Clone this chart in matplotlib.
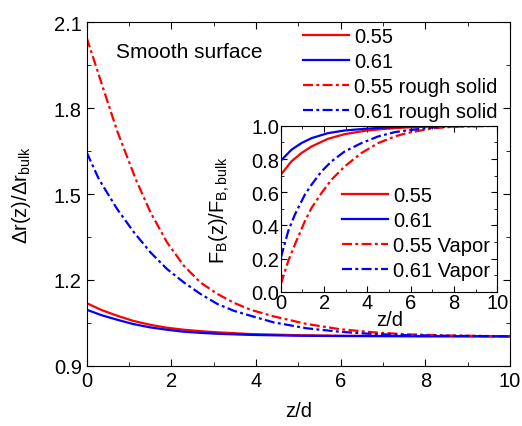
import numpy as np
import matplotlib.pyplot as plt

plt.rcParams['font.family'] = ['Liberation Sans', 'DejaVu Sans']
plt.rcParams['mathtext.fontset'] = 'custom'
plt.rcParams['mathtext.rm'] = 'Liberation Sans'
plt.rcParams['mathtext.it'] = 'Liberation Sans'

# main panel: delta r(z)/delta r_bulk vs z/d
z_s = [0, 0.35, 0.72, 1.1, 1.51, 1.9, 2.3, 2.7, 3.09, 3.87, 5.0, 6.0, 8.0, 10.0]
r055 = [1.119, 1.095, 1.075, 1.057, 1.043, 1.033, 1.026, 1.021, 1.017, 1.011, 1.007, 1.005, 1.004, 1.003]
r061 = [1.096, 1.077, 1.061, 1.046, 1.034, 1.026, 1.019, 1.015, 1.012, 1.008, 1.005, 1.004, 1.003, 1.003]

z_r055 = [0, 0.41, 0.72, 1.16, 1.51, 1.9, 2.3, 2.69, 3.09, 3.48, 3.87, 4.41, 5.2, 5.98, 6.77, 7.56, 8.5, 10.0]
r055_rough = [2.047, 1.861, 1.721, 1.552, 1.436, 1.331, 1.249, 1.191, 1.151, 1.12, 1.096, 1.073, 1.046,
              1.028, 1.017, 1.01, 1.006, 1.003]
z_r061 = [0, 0.29, 0.72, 1.12, 1.51, 1.9, 2.3, 2.69, 3.09, 3.48, 3.87, 4.41, 5.2, 5.98, 6.77, 7.56, 8.5, 10.0]
r061_rough = [1.646, 1.552, 1.448, 1.366, 1.296, 1.238, 1.191, 1.151, 1.116, 1.092, 1.075, 1.052, 1.031,
              1.019, 1.011, 1.007, 1.005, 1.003]

# inset: F_B(z)/F_B,bulk vs z/d
z_in = [0, 0.49, 0.95, 1.42, 2.18, 2.95, 3.88, 4.8, 5.8, 7.0, 8.0, 10.0]
f055 = [0.706, 0.786, 0.836, 0.876, 0.922, 0.95, 0.97, 0.982, 0.99, 0.996, 0.999, 1.0]
f061 = [0.79, 0.856, 0.896, 0.926, 0.956, 0.972, 0.982, 0.99, 0.996, 0.998, 0.999, 1.0]
z_vap = [0, 0.34, 0.65, 1.11, 1.42, 1.88, 2.34, 2.95, 3.72, 4.49, 5.26, 5.8, 7.0, 8.0, 10.0]
f055_vap = [0.046, 0.186, 0.286, 0.426, 0.506, 0.596, 0.676, 0.756, 0.836, 0.896, 0.936, 0.956, 0.985,
            0.995, 1.0]
f061_vap = [0.206, 0.366, 0.466, 0.586, 0.646, 0.726, 0.786, 0.846, 0.896, 0.936, 0.962, 0.972, 0.99,
            0.997, 1.0]

dd = (0, (4.5, 1.5, 1.3, 1.5))
lw = 1.6
fs = 14.5

fig = plt.figure(figsize=(5.22, 4.27), dpi=100)
ax = fig.add_axes([0.166, 0.141, 0.811, 0.804])
ax.plot(z_s, r055, color='red', lw=lw, label='0.55')
ax.plot(z_s, r061, color='blue', lw=lw, label='0.61')
ax.plot(z_r055, r055_rough, color='red', lw=lw, ls=dd, label='0.55 rough solid')
ax.plot(z_r061, r061_rough, color='blue', lw=lw, ls=dd, label='0.61 rough solid')
ax.set_xlim(0, 10)
ax.set_ylim(0.9, 2.1)
ax.set_xticks([0, 2, 4, 6, 8, 10])
ax.set_xticks(np.arange(1, 10, 2), minor=True)
ax.set_yticks([0.9, 1.2, 1.5, 1.8, 2.1])
ax.set_yticks([1.05, 1.35, 1.65, 1.95], minor=True)
ax.tick_params(which='both', direction='in', top=True, right=True, labelsize=fs)
ax.tick_params(which='major', length=5)
ax.tick_params(which='minor', length=3)
ax.set_xlabel('z/d', fontsize=fs, labelpad=8)
ax.set_ylabel(r'$\Delta$r(z)/$\Delta$r$_{\mathrm{bulk}}$', fontsize=fs, labelpad=15)
ax.text(0.07, 0.915, 'Smooth surface', transform=ax.transAxes, fontsize=15, va='center')
ax.legend(loc='upper left', bbox_to_anchor=(0.580, 0.935), bbox_transform=fig.transFigure,
          frameon=False, fontsize=fs, handlelength=2.3, handletextpad=0.25,
          labelspacing=0.3, borderpad=0, borderaxespad=0)

ins = fig.add_axes([0.538, 0.314, 0.415, 0.389])
ins.plot(z_in, f055, color='red', lw=lw, label='0.55')
ins.plot(z_in, f061, color='blue', lw=lw, label='0.61')
ins.plot(z_vap, f055_vap, color='red', lw=lw, ls=dd, label='0.55 Vapor')
ins.plot(z_vap, f061_vap, color='blue', lw=lw, ls=dd, label='0.61 Vapor')
ins.set_xlim(0, 10)
ins.set_ylim(0, 1.0)
ins.set_xticks([0, 2, 4, 6, 8, 10])
ins.set_xticks(np.arange(1, 10, 2), minor=True)
ins.set_yticks([0, 0.2, 0.4, 0.6, 0.8, 1.0])
ins.set_yticks([0.1, 0.3, 0.5, 0.7, 0.9], minor=True)
ins.tick_params(which='both', direction='in', top=True, right=True, labelsize=fs, pad=1)
ins.tick_params(which='major', length=4)
ins.tick_params(which='minor', length=2)
ins.set_xlabel('z/d', fontsize=fs, labelpad=-2)
ins.set_ylabel(r'F$_{\mathrm{B}}$(z)/F$_{\mathrm{B,bulk}}$', fontsize=fs, labelpad=14)
ins.legend(loc='upper left', bbox_to_anchor=(0.655, 0.562), bbox_transform=fig.transFigure,
           frameon=False, fontsize=fs, handlelength=2.3, handletextpad=0.25,
           labelspacing=0.3, borderpad=0, borderaxespad=0)

fig.savefig('out.png', dpi=100)
